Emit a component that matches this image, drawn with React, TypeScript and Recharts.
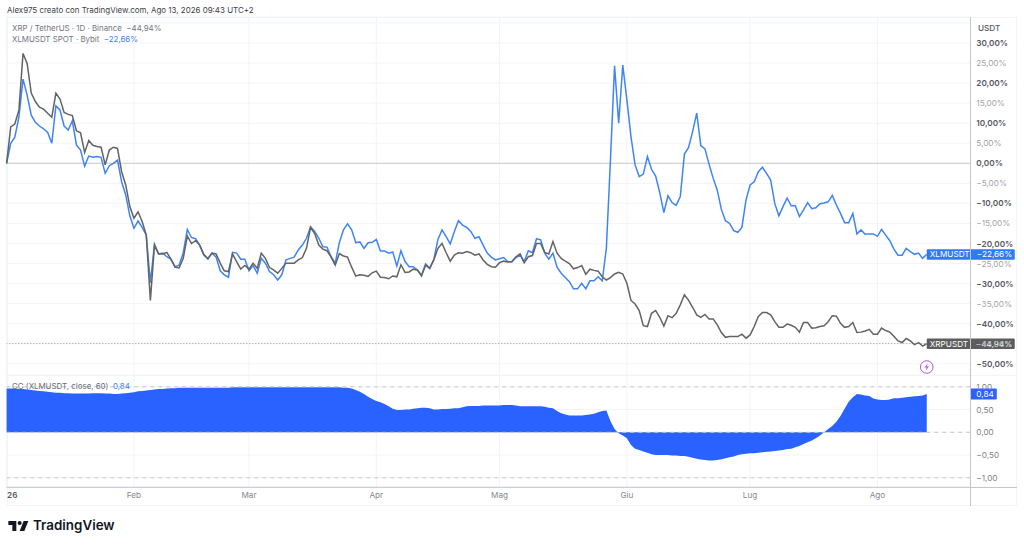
import {
  ComposedChart,
  LineChart,
  Line,
  Area,
  XAxis,
  YAxis,
  CartesianGrid,
  ReferenceLine,
  ReferenceDot,
} from "recharts";

const monthTicks = [0, 31, 59, 90, 120, 151, 181, 212];
const monthLabels = ["26", "Feb", "Mar", "Apr", "Mag", "Giu", "Lug", "Ago"];
const priceTicks = [35, 30, 25, 20, 15, 10, 5, 0, -5, -10, -15, -20, -25, -30, -35, -40, -45, -50];
const ccTicks = [1, 0.5, 0, -0.5, -1];

// daily % change, Jan 1 -> Aug 13
const xrp = [
  0, 9.1, 9.8, 13.3, 27.4, 24.9, 17.5, 15.4, 14, 13.5,
  12.5, 11.5, 17.5, 16, 12.7, 12.2, 11.9, 8.1, 7.6, 2.7,
  5.7, 4.5, 4.2, 4, -0.4, 3.3, 4, 3.7, -2.1, -5.4,
  -10.8, -13.7, -12.1, -14.5, -17.9, -34.2, -20.4, -22.6, -22.6, -22.2,
  -23.9, -25.9, -26.1, -23.7, -18.1, -20, -19.3, -20.4, -22.7, -23.8,
  -22.4, -22.6, -24.9, -26.8, -27, -22.6, -24.5, -26.4, -25.5, -26.4,
  -24.9, -26.2, -22.4, -23.7, -26, -26.6, -27.4, -26.2, -24.9, -24.9,
  -24.9, -24.1, -23.5, -21.2, -16, -17.5, -20.4, -21.4, -21.8, -23.4,
  -25.4, -22.5, -23.1, -23.4, -25.9, -28.1, -27.8, -27.9, -28.2, -27.3,
  -26.9, -28.4, -28.5, -28.8, -28.1, -28.3, -25.3, -27.2, -27.1, -26.4,
  -26.6, -28.1, -25.4, -26.2, -24.1, -21.2, -20, -22.3, -24.4, -22.9,
  -22.3, -22.4, -22, -22.3, -22.9, -22.6, -24.1, -25.2, -25.8, -25.9,
  -24.8, -24.4, -24.6, -24.5, -23.3, -22.6, -24.8, -23.3, -23, -20,
  -20, -22.2, -22.6, -19.5, -22.4, -23.7, -24.4, -25, -26.3, -26,
  -25.5, -27.7, -26.4, -26.7, -26.9, -28.3, -29.1, -28.5, -27.6, -27.2,
  -27.6, -29.9, -34.2, -35.1, -36.7, -40.5, -40.7, -37.4, -36.7, -38.4,
  -40.6, -38, -38.5, -37.4, -35.3, -32.8, -34.1, -35.9, -37.8, -38.4,
  -37.7, -38.8, -38.8, -40.3, -42.2, -43.4, -43.2, -43.2, -43.2, -42.6,
  -43.6, -42.8, -40.7, -38.2, -37.2, -37.2, -37.8, -39.5, -40.9, -40.9,
  -40.1, -40.4, -40.9, -42.1, -39.7, -39.7, -41.1, -41, -40.7, -40.5,
  -39.5, -38, -38.1, -39.9, -40.9, -40.7, -39.7, -42.2, -42.1, -41.8,
  -41.4, -42.6, -42.6, -41.1, -41.7, -42.1, -43.1, -44.3, -44.7, -43.7,
  -44.3, -45.2, -44.7, -45.6, -44.94,
];

const xlm = [
  0, 5, 6.5, 11.6, 21, 17, 12, 10.2, 9.3, 8.6,
  7.7, 5, 14.3, 13.3, 9.3, 8.3, 10.6, 4.6, 3.3, -0.7,
  1.8, 1.5, 1.7, 1.5, -2.5, -0.6, 0, 0.8, -4.6, -7.9,
  -13.1, -16.2, -14.4, -16, -17.9, -29.8, -20.2, -22.6, -22.4, -23.3,
  -23.9, -25.8, -25.4, -22.3, -16.5, -18.5, -18.8, -20.4, -22.9, -23.8,
  -22.4, -23.4, -26.8, -27.8, -28.4, -22.2, -22.4, -23.9, -23.9, -26.8,
  -25.5, -27.4, -23.7, -24.9, -27, -27.8, -29.1, -27.8, -24.1, -23.7,
  -23.4, -21.6, -20.4, -18.7, -15.8, -17, -18.7, -20.8, -20.9, -23.3,
  -24.9, -19.8, -16.6, -15.1, -16.6, -19.8, -19.6, -21.2, -19.8, -19.7,
  -19, -21.9, -21.9, -22.4, -22.1, -25.6, -21.8, -24.5, -25.8, -25.8,
  -26.6, -27.9, -25.1, -26.2, -24, -19, -16.6, -18.3, -20.1, -17,
  -14.3, -15.4, -16, -17, -18.7, -18.3, -20.4, -22.4, -23.4, -24.1,
  -23.8, -23.5, -24.5, -24.6, -23.5, -22.9, -24.5, -21.8, -22.3, -18.8,
  -19.1, -22.4, -23.9, -22.4, -25.9, -27.4, -28.5, -29.5, -31.3, -31.3,
  -29.9, -31.3, -29.3, -29.3, -28.3, -29.3, -21.2, 0.8, 24.3, 10,
  24.5, 15.8, 6.6, -0.4, -3.3, -2.7, 1.7, -1.5, -3.2, -7.3,
  -12.3, -8.1, -9.8, -10.5, -8.3, 2.3, 3.9, 7.9, 12.5, 4.4,
  3.6, -0.2, -3.7, -6.7, -11.5, -14.3, -15, -16.8, -17.2, -16,
  -9.1, -5.4, -4.6, -2.1, -1, -2.5, -4.2, -10, -13.1, -10.8,
  -8.7, -10.6, -10.6, -13.3, -11.6, -9.8, -11.3, -11.1, -10.1, -9.9,
  -9.6, -8, -10.4, -12.5, -14.8, -14.8, -12.5, -17.6, -16.6, -17.7,
  -17.6, -17.6, -18.2, -16.5, -17.9, -19.3, -21.4, -22.9, -22.9, -21.2,
  -22, -22.7, -22.4, -23.7, -22.66,
];

const cc = [
  0.96, 0.96, 0.96, 0.95, 0.95, 0.94, 0.93, 0.92, 0.91, 0.9,
  0.89, 0.88, 0.87, 0.87, 0.86, 0.86, 0.85, 0.85, 0.85, 0.85,
  0.85, 0.86, 0.86, 0.86, 0.85, 0.85, 0.84, 0.84, 0.85, 0.86,
  0.87, 0.88, 0.9, 0.91, 0.92, 0.93, 0.94, 0.95, 0.95, 0.96,
  0.97, 0.97, 0.98, 0.98, 0.98, 0.98, 0.98, 0.98, 0.98, 0.98,
  0.98, 0.98, 0.98, 0.98, 0.98, 0.99, 0.99, 0.99, 0.99, 0.99,
  0.99, 0.99, 0.99, 0.99, 0.99, 0.99, 0.99, 0.99, 0.99, 0.99,
  0.99, 0.99, 0.99, 0.99, 0.99, 0.99, 0.99, 0.99, 0.99, 0.99,
  0.99, 0.99, 0.98, 0.98, 0.96, 0.93, 0.89, 0.84, 0.78, 0.73,
  0.69, 0.66, 0.62, 0.57, 0.52, 0.49, 0.49, 0.5, 0.5, 0.52,
  0.53, 0.54, 0.54, 0.53, 0.5, 0.5, 0.51, 0.51, 0.52, 0.53,
  0.53, 0.55, 0.57, 0.58, 0.58, 0.58, 0.59, 0.59, 0.59, 0.59,
  0.59, 0.6, 0.6, 0.6, 0.59, 0.57, 0.57, 0.57, 0.57, 0.57,
  0.57, 0.56, 0.54, 0.53, 0.47, 0.42, 0.39, 0.37, 0.37, 0.37,
  0.37, 0.38, 0.39, 0.41, 0.44, 0.47, 0.48, 0.25, 0.07, -0.02,
  -0.07, -0.13, -0.28, -0.36, -0.39, -0.42, -0.45, -0.48, -0.5, -0.5,
  -0.5, -0.5, -0.51, -0.51, -0.52, -0.52, -0.54, -0.56, -0.58, -0.6,
  -0.61, -0.62, -0.62, -0.61, -0.59, -0.57, -0.55, -0.53, -0.5, -0.48,
  -0.47, -0.46, -0.46, -0.45, -0.44, -0.43, -0.42, -0.41, -0.4, -0.39,
  -0.37, -0.36, -0.33, -0.3, -0.26, -0.22, -0.18, -0.13, -0.07, 0,
  0.07, 0.14, 0.23, 0.36, 0.52, 0.67, 0.77, 0.84, 0.83, 0.81,
  0.8, 0.74, 0.72, 0.71, 0.71, 0.72, 0.75, 0.75, 0.76, 0.77,
  0.78, 0.79, 0.8, 0.81, 0.84,
];

const XRP_LAST = -44.94;
const XLM_LAST = -22.66;
const CC_LAST = 0.84;

const FONT = "Inter, 'Open Sans', sans-serif";
const BLUE_LINE = "#3f84f5";
const BLUE_FILL = "#2962ff";
const GREY_LINE = "#636363";
const GRID = "#f1f4fa";
const AXIS_LINE = "#c4c6cc";

const fmt = (v: number, digits: number) => {
  const s = Math.abs(v).toFixed(digits).replace(".", ",");
  return v < 0 ? `\u2212${s}` : s;
};

const mainData = xrp.map((v, i) => ({ day: i, xrp: v, xlm: xlm[i] }));
const ccData = cc.map((v, i) => ({ day: i, cc: v }));

function PriceTick({ x, y, payload }: any) {
  const v = payload.value;
  if (v === 35) return null;
  const strong = v % 10 === 0;
  return (
    <text x={x - 2} y={y + 3} fontFamily={FONT} fontSize={8.2} fontWeight={strong ? 600 : 400} fill={strong ? "#55585f" : "#a0a3aa"}>
      {`${fmt(v, 2)}%`}
    </text>
  );
}

function CcTick({ x, y, payload }: any) {
  return (
    <text x={x - 2} y={y + 3} fontFamily={FONT} fontSize={8.2} fill="#7d8087">
      {fmt(payload.value, 2)}
    </text>
  );
}

function MonthTick({ x, y, payload, index }: any) {
  const first = index === 0;
  return (
    <text x={first ? x + 0.5 : x} y={y + 3} textAnchor={first ? "start" : "middle"} fontFamily={FONT} fontSize={8.2} fontWeight={first ? 600 : 400} fill={first ? "#55585f" : "#85888f"}>
      {monthLabels[monthTicks.indexOf(payload.value)]}
    </text>
  );
}

function SeriesTag({ cx, cy, tagName, tagValue, tagColor }: any) {
  return (
    <g>
      <rect x={cx} y={cy - 5} width={88} height={10.5} rx={1} fill={tagColor} />
      <text x={cx + 3} y={cy + 3} fontFamily={FONT} fontSize={8.2} fill="#fff">{tagName}</text>
      <text x={cx + 85.5} y={cy + 3} textAnchor="end" fontFamily={FONT} fontSize={8.2} fill="#fff">{tagValue}</text>
    </g>
  );
}

function BoltMark({ cx, cy }: any) {
  return (
    <g>
      <circle cx={cx} cy={cy} r={6.3} fill="#fff" stroke="#b455d6" strokeWidth={1} />
      <path d={`M${cx + 1.2} ${cy - 4}l-3.4 4.6h2.2l-1.2 3.4 3.4-4.6h-2.2z`} fill="#b455d6" />
    </g>
  );
}

function CcTag({ cx, cy }: any) {
  return (
    <g>
      <rect x={cx} y={cy - 5.5} width={26.5} height={11} rx={1} fill={BLUE_FILL} />
      <text x={cx + 6} y={cy + 3} fontFamily={FONT} fontSize={8.2} fill="#fff">{fmt(CC_LAST, 2)}</text>
    </g>
  );
}

export default function App() {
  return (
    <div style={{ position: "absolute", left: 0, top: 0, width: 1024, height: 546, background: "#fff", overflow: "hidden", fontFamily: FONT }}>
      {/* chart frame */}
      <div style={{ position: "absolute", left: 7, top: 17, width: 1010, height: 489, border: `1px solid ${GRID}`, boxSizing: "border-box" }} />
      <div style={{ position: "absolute", left: 7, top: 375, width: 1010, height: 1, background: GRID }} />

      <div style={{ position: "absolute", left: 0, top: 0 }}>
        <LineChart width={1024} height={375} data={mainData} margin={{ top: 17, right: 0, bottom: 0, left: 6.6 }}>
          <CartesianGrid stroke={GRID} />
          <XAxis dataKey="day" type="number" domain={[0, 234.6]} ticks={monthTicks} hide />
          <YAxis
            orientation="right"
            width={53.7}
            type="number"
            domain={[-52.79, 36.48]}
            ticks={priceTicks}
            interval={0}
            axisLine={false}
            tickLine={false}
            tick={<PriceTick />}
          />
          <ReferenceLine y={0} stroke="#c9cbd0" />
          <ReferenceLine y={XRP_LAST} stroke="#9a9a9a" strokeDasharray="1 2" />
          <Line dataKey="xlm" stroke={BLUE_LINE} strokeWidth={1.5} dot={false} type="linear" isAnimationActive={false} />
          <Line dataKey="xrp" stroke={GREY_LINE} strokeWidth={1.5} dot={false} type="linear" isAnimationActive={false} />
          <ReferenceDot x={224} y={XLM_LAST} shape={<SeriesTag tagName="XLMUSDT" tagValue={`${fmt(XLM_LAST, 2)}%`} tagColor="#2f7bf6" />} />
          <ReferenceDot x={224} y={XRP_LAST} shape={<SeriesTag tagName="XRPUSDT" tagValue={`${fmt(XRP_LAST, 2)}%`} tagColor="#5d5d5d" />} />
          <ReferenceDot x={224} y={-50.8} shape={<BoltMark />} />
        </LineChart>
      </div>

      <div style={{ position: "absolute", left: 0, top: 375 }}>
        <ComposedChart width={1024} height={131} data={ccData} margin={{ top: 0, right: 0, bottom: 0, left: 6.6 }}>
          <CartesianGrid stroke={GRID} />
          <XAxis
            dataKey="day"
            type="number"
            domain={[0, 234.6]}
            ticks={monthTicks}
            interval={0}
            height={18.7}
            axisLine={{ stroke: AXIS_LINE }}
            tickLine={false}
            tick={<MonthTick />}
          />
          <YAxis
            orientation="right"
            width={53.7}
            type="number"
            domain={[-1.209, 1.259]}
            ticks={ccTicks}
            interval={0}
            axisLine={false}
            tickLine={false}
            tick={<CcTick />}
          />
          <Area dataKey="cc" type="linear" stroke="none" fill={BLUE_FILL} fillOpacity={1} isAnimationActive={false} />
          <ReferenceLine y={1} stroke="#c4c6cc" strokeDasharray="4 4" />
          <ReferenceLine y={0} stroke="#c4c6cc" strokeDasharray="4 4" />
          <ReferenceLine y={-1} stroke="#c4c6cc" strokeDasharray="4 4" />
          <ReferenceDot x={234.6} y={CC_LAST} shape={<CcTag />} />
        </ComposedChart>
      </div>

      {/* price scale divider */}
      <div style={{ position: "absolute", left: 970, top: 17, width: 1, height: 489, background: AXIS_LINE }} />
      <div style={{ position: "absolute", left: 970, top: 487, width: 47, height: 1, background: AXIS_LINE }} />

      <div style={{ position: "absolute", left: 7, top: 5, fontSize: 7.95, color: "#3c3f46", whiteSpace: "nowrap" }}>
        Alex975 creato con TradingView.com, Ago 13, 2026 09:43 UTC+2
      </div>
      <div style={{ position: "absolute", left: 12, top: 23, fontSize: 7.9, color: "#73767d", whiteSpace: "nowrap" }}>
        XRP / TetherUS · 1D · Binance&nbsp;&nbsp;<span style={{ color: "#73767d" }}>{`${fmt(XRP_LAST, 2)}%`}</span>
      </div>
      <div style={{ position: "absolute", left: 12, top: 34, fontSize: 7.9, color: "#73767d", whiteSpace: "nowrap" }}>
        XLMUSDT SPOT · Bybit&nbsp;&nbsp;<span style={{ color: "#3f84f5" }}>{`${fmt(XLM_LAST, 2)}%`}</span>
      </div>
      <div style={{ position: "absolute", left: 12, top: 381, fontSize: 7.9, color: "#6b6e75", whiteSpace: "nowrap" }}>
        CC (XLMUSDT, close, 60)&nbsp;&nbsp;<span style={{ color: "#3f84f5" }}>{fmt(CC_LAST, 2)}</span>
      </div>
      <div style={{ position: "absolute", left: 978, top: 23, fontSize: 8.2, fontWeight: 500, color: "#55585f" }}>USDT</div>

      {/* logo */}
      <svg style={{ position: "absolute", left: 6.7, top: 516.7 }} width={24} height={18.67} viewBox="0 0 36 28">
        <path d="M14 6H2v6h6v9h6V6Zm12 15h-7l6-15h7l-6 15Zm-7-9a3 3 0 1 0 0-6 3 3 0 0 0 0 6Z" fill="#131722" />
      </svg>
      <div style={{ position: "absolute", left: 33, top: 517, fontSize: 13.4, fontWeight: 600, color: "#131722" }}>TradingView</div>
    </div>
  );
}
